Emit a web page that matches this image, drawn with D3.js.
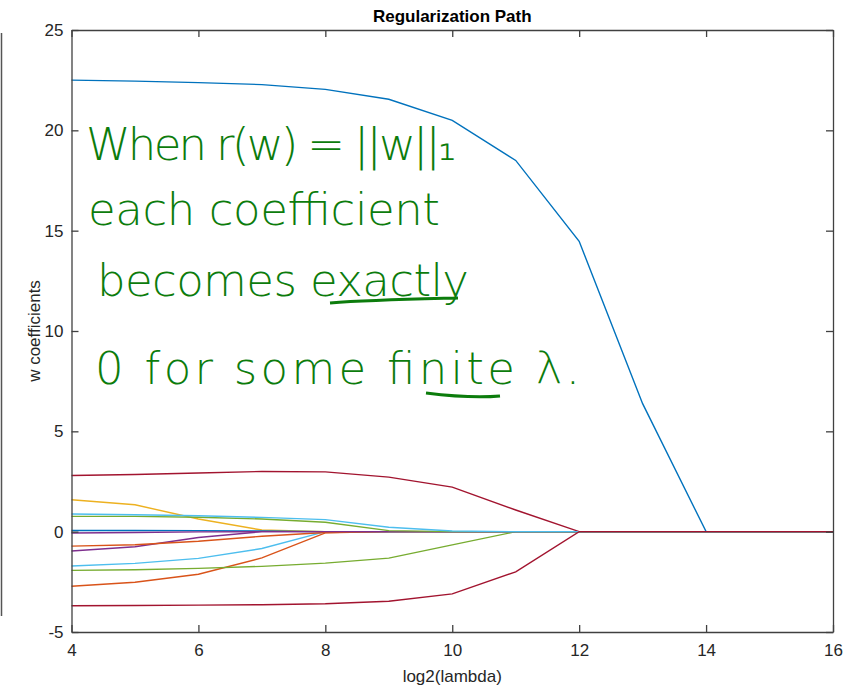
<!DOCTYPE html>
<html>
<head>
<meta charset="utf-8">
<script src="https://cdn.jsdelivr.net/npm/d3@7"></script>
<style>
  body { margin: 0; background: #fff; }
  svg { display: block; font-family: "Liberation Sans", Arial, sans-serif; }
</style>
</head>
<body>
<svg id="chart" width="843" height="685"></svg>
<script>
// x values (log2 lambda)
var logLambda = [4, 5, 6, 7, 8, 9, 10, 11, 12, 13, 14, 15, 16];

// coefficient paths, in plotting order
var wBlue1   = [22.5, 22.45, 22.38, 22.28, 22.04, 21.55, 20.5, 18.5, 14.47, 6.38, 0, 0, 0];
var wOrange1 = [-2.72, -2.52, -2.12, -1.31, -0.06, 0, 0, 0, 0, 0, 0, 0, 0];
var wYellow1 = [1.59, 1.34, 0.63, 0.08, 0, 0, 0, 0, 0, 0, 0, 0, 0];
var wPurple1 = [-0.96, -0.75, -0.29, 0, 0, 0, 0, 0, 0, 0, 0, 0, 0];
var wGreen1  = [-1.93, -1.9, -1.83, -1.73, -1.57, -1.32, -0.66, 0, 0, 0, 0, 0, 0];
var wCyan1   = [-1.71, -1.58, -1.33, -0.84, 0, 0, 0, 0, 0, 0, 0, 0, 0];
var wRed1    = [2.8, 2.85, 2.92, 3.0, 2.98, 2.72, 2.22, 1.08, 0, 0, 0, 0, 0];
var wBlue2   = [0.06, 0.06, 0.05, 0.03, 0, 0, 0, 0, 0, 0, 0, 0, 0];
var wOrange2 = [-0.72, -0.65, -0.48, -0.23, -0.04, 0, 0, 0, 0, 0, 0, 0, 0];
var wPurple2 = [-0.07, -0.04, -0.01, 0, 0, 0, 0, 0, 0, 0, 0, 0, 0];
var wGreen2  = [0.76, 0.76, 0.72, 0.63, 0.47, 0.05, 0, 0, 0, 0, 0, 0, 0];
var wCyan2   = [0.88, 0.84, 0.79, 0.71, 0.6, 0.22, 0.03, 0, 0, 0, 0, 0, 0];
var wRed2    = [-3.69, -3.68, -3.66, -3.64, -3.59, -3.47, -3.1, -2.0, 0, 0, 0, 0, 0];

var series = [wBlue1, wOrange1, wYellow1, wPurple1, wGreen1, wCyan1, wRed1,
              wBlue2, wOrange2, wPurple2, wGreen2, wCyan2, wRed2];
var seriesColors = ['#0072BD', '#D95319', '#EDB120', '#7E2F8E', '#77AC30', '#4DBEEE', '#A2142F',
                    '#0072BD', '#D95319', '#7E2F8E', '#77AC30', '#4DBEEE', '#A2142F'];

var xTicks = [4, 6, 8, 10, 12, 14, 16];
var yTicks = [-5, 0, 5, 10, 15, 20, 25];

// handwritten note
var noteLines = ['When r(w) = ||w||\u2081', 'each coefficient', 'becomes exactly', '0 for some finite \u03bb.'];

var svg = d3.select('#chart');
var L = 71.5, R = 833, T = 30, B = 632;
var x = d3.scaleLinear().domain([4, 16]).range([L, R]);
var y = d3.scaleLinear().domain([-5, 25]).range([B, T]);
var axisCol = '#404040', textCol = '#262626';
var fs = 17;

// stray edge line at far left
svg.append('line').attr('x1', 1.5).attr('x2', 1.5).attr('y1', 33).attr('y2', 616)
    .attr('stroke', '#555').attr('stroke-width', 1.5);

// lines
var line = d3.line().x(function(d, i) { return x(logLambda[i]); }).y(function(d) { return y(d); });
svg.append('g').selectAll('path').data(series).enter().append('path')
    .attr('d', line)
    .attr('fill', 'none')
    .attr('stroke', function(d, i) { return seriesColors[i]; })
    .attr('stroke-width', 1.4);

// axes (MATLAB box, ticks inward on all sides)
var tk = 7;
var plain = function(d) { return String(d); };
svg.append('g').attr('transform', 'translate(0,' + B + ')')
    .call(d3.axisBottom(x).tickValues(xTicks).tickFormat(plain).tickSizeInner(-tk).tickSizeOuter(0).tickPadding(12))
    .call(function(g) { g.selectAll('text').attr('font-size', fs).attr('fill', textCol); });
svg.append('g').attr('transform', 'translate(0,' + T + ')')
    .call(d3.axisTop(x).tickValues(xTicks).tickSizeInner(-tk).tickSizeOuter(0).tickFormat(''));
svg.append('g').attr('transform', 'translate(' + L + ',0)')
    .call(d3.axisLeft(y).tickValues(yTicks).tickFormat(plain).tickSizeInner(-tk).tickSizeOuter(0).tickPadding(8))
    .call(function(g) { g.selectAll('text').attr('font-size', fs).attr('fill', textCol); });
svg.append('g').attr('transform', 'translate(' + R + ',0)')
    .call(d3.axisRight(y).tickValues(yTicks).tickSizeInner(-tk).tickSizeOuter(0).tickFormat(''));
svg.selectAll('.domain, .tick line').attr('stroke', axisCol).attr('stroke-width', 1.3);
svg.selectAll('.tick text').attr('font-family', '"Liberation Sans", Arial, sans-serif');

// title and labels
svg.append('text').attr('x', (L + R) / 2).attr('y', 22).attr('text-anchor', 'middle')
    .attr('font-size', 17).attr('font-weight', 'bold').attr('fill', '#000').text('Regularization Path');
svg.append('text').attr('x', (L + R) / 2).attr('y', 682).attr('text-anchor', 'middle')
    .attr('font-size', fs).attr('fill', textCol).text('log2(lambda)');
svg.append('text').attr('transform', 'translate(40,' + ((T + B) / 2) + ') rotate(-90)')
    .attr('text-anchor', 'middle').attr('font-size', fs).attr('fill', textCol).text('w coefficients');

// green note
var noteX = [86, 88, 97, 95], noteY = [160, 225, 296, 384], noteW = [370, 352, 372, 485];
var green = '#0c7c0c';
svg.append('g').selectAll('text').data(noteLines).enter().append('text')
    .attr('x', function(d, i) { return noteX[i]; })
    .attr('y', function(d, i) { return noteY[i]; })
    .attr('textLength', function(d, i) { return noteW[i]; })
    .attr('lengthAdjust', 'spacing')
    .attr('font-family', '"DejaVu Sans", sans-serif')
    .attr('font-size', 45)
    .attr('font-weight', 300)
    .attr('fill', green)
    .text(function(d) { return d; });
// underlines for "exactly" and "finite"
svg.append('path').attr('d', 'M330,303 C370,300 420,299 458,298').attr('stroke', green)
    .attr('stroke-width', 3).attr('fill', 'none');
svg.append('path').attr('d', 'M426,393 C450,396 478,398 500,396').attr('stroke', green)
    .attr('stroke-width', 3).attr('fill', 'none');
</script>
</body>
</html>
